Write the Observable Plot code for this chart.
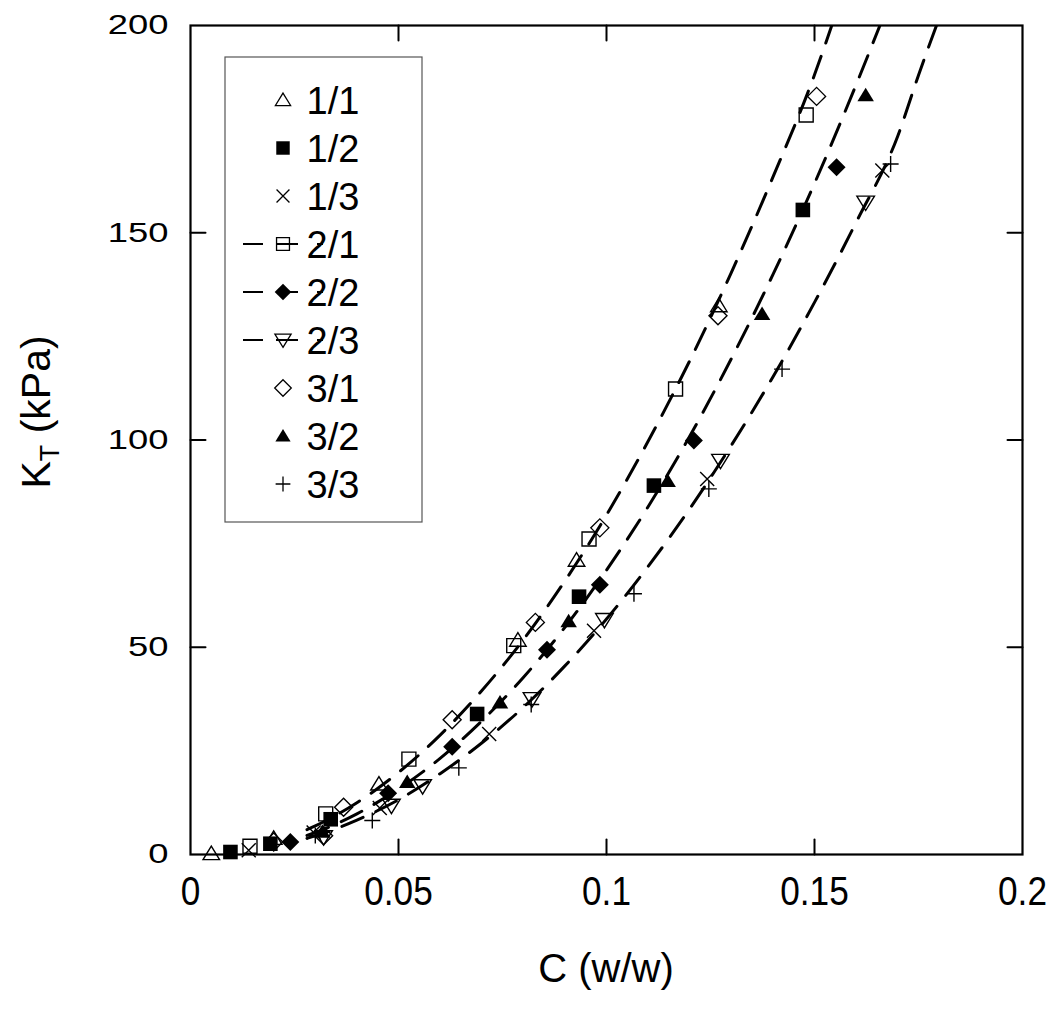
<!DOCTYPE html>
<html><head><meta charset="utf-8">
<script src="https://cdn.jsdelivr.net/npm/d3@7"></script>
<script src="https://cdn.jsdelivr.net/npm/@observablehq/plot@0.6"></script>
<style>
body{margin:0;background:#fff;}
#chart{position:relative;width:1050px;height:1013px;}
</style></head><body><div id="chart"></div>
<script>
// ---------- data ----------
const seriesNames = ["1/1","1/2","1/3","2/1","2/2","2/3","3/1","3/2","3/3"];
const c11 = [0.005,0.020,0.0453,0.0787,0.0928,0.127];
const k11 = [0.2,3.9,17,51.7,71,132.4];
const c12 = [0.0096,0.0192,0.0337,0.0689,0.0934,0.1114,0.1472];
const k12 = [0.6,2.6,8.5,33.9,62.2,89,155.5];
const c13 = [0.014,0.0296,0.0455,0.0718,0.097,0.1242,0.1663];
const k13 = [1,5.3,11.2,29.1,54,90.6,165];
const c21 = [0.0143,0.0325,0.0525,0.0777,0.0958,0.1166,0.148];
const k21 = [2.0,9.8,23,50.4,76.1,112.3,178.4];
const c22 = [0.024,0.0475,0.0629,0.0857,0.0984,0.121,0.1553];
const k22 = [3.0,14.8,26,49.4,65.1,99.9,165.8];
const c23 = [0.032,0.0483,0.0558,0.0821,0.0995,0.1274,0.1623];
const k23 = [4.2,11.8,16.5,37.5,56.6,95,157.3];
const c31 = [0.020,0.032,0.0368,0.0629,0.0829,0.0984,0.1268,0.1505];
const k31 = [3.0,4.5,11.4,32.5,56,78.8,130,182.9];
const c32 = [0.0317,0.0521,0.0744,0.0909,0.1147,0.1374,0.1623];
const k32 = [5.5,17.5,36.7,56.3,90.1,130.4,183.2];
const c33 = [0.030,0.0437,0.0645,0.0819,0.1066,0.1246,0.1422,0.1683];
const k33 = [4.6,8.2,20.9,36.2,62.9,88.2,117.1,166.6];

// dashed fit curves
const fitC21 = [0.028,0.03,0.04,0.05,0.06,0.07,0.08,0.09,0.10,0.11,0.12,0.13,0.14,0.15,0.155];
const fitK21 = [6.0,6.9,12.5,19.8,28.8,39.5,51.8,66.0,81.9,99.7,119.1,140.4,163.4,188.1,202.5];
const fitC22 = [0.028,0.03,0.04,0.05,0.06,0.07,0.08,0.09,0.10,0.11,0.12,0.13,0.14,0.15,0.16,0.166];
const fitK22 = [4.6,5.3,9.8,15.8,23.2,32.2,42.7,54.8,68.6,83.9,100.9,119.6,139.9,161.9,185.7,200.7];
const fitC23 = [0.028,0.03,0.04,0.05,0.06,0.07,0.08,0.09,0.10,0.11,0.12,0.13,0.14,0.15,0.16,0.17,0.175,0.1795];
const fitK23 = [3.9,4.5,8.3,13.2,19.5,26.9,35.5,45.5,56.8,69.5,83.4,98.7,115.2,133.2,152.5,173.3,188,200.5];

const xTicks = [0,0.05,0.1,0.15,0.2];
const yTicks = [0,50,100,150,200];
const xInner = [0.05,0.1,0.15];
const yInner = [50,100,150];

// ---------- symbols ----------
function mk(fn){ return {draw(ctx,size){ const r=Math.sqrt(size/Math.PI); fn(ctx,r);} }; }
const shapes = {
  triUp: mk((c,r)=>{c.moveTo(0,-r);c.lineTo(r*1.1,r*0.8);c.lineTo(-r*1.1,r*0.8);c.closePath();}),
  triDown: mk((c,r)=>{c.moveTo(0,r);c.lineTo(r*1.1,-r*0.8);c.lineTo(-r*1.1,-r*0.8);c.closePath();}),
  square: mk((c,r)=>{c.rect(-r,-r,2*r,2*r);}),
  diamond: mk((c,r)=>{c.moveTo(0,-r);c.lineTo(r,0);c.lineTo(0,r);c.lineTo(-r,0);c.closePath();}),
  times: mk((c,r)=>{c.moveTo(-r,-r);c.lineTo(r,r);c.moveTo(-r,r);c.lineTo(r,-r);}),
  plus: mk((c,r)=>{c.moveTo(-r,0);c.lineTo(r,0);c.moveTo(0,-r);c.lineTo(0,r);})
};
const styleOf = {
  "1/1": {shape:"triUp", filled:false, r:7.5},
  "1/2": {shape:"square", filled:true, r:7.3},
  "1/3": {shape:"times", filled:false, r:7},
  "2/1": {shape:"square", filled:false, r:7},
  "2/2": {shape:"diamond", filled:true, r:9},
  "2/3": {shape:"triDown", filled:false, r:8},
  "3/1": {shape:"diamond", filled:false, r:9},
  "3/2": {shape:"triUp", filled:true, r:7.5},
  "3/3": {shape:"plus", filled:false, r:8}
};
const dataOf = {
  "1/1":[c11,k11],"1/2":[c12,k12],"1/3":[c13,k13],
  "2/1":[c21,k21],"2/2":[c22,k22],"2/3":[c23,k23],
  "3/1":[c31,k31],"3/2":[c32,k32],"3/3":[c33,k33]
};
const toRows = (cs,ks)=>cs.map((c,i)=>({c,k:ks[i]}));

const dotMarks = seriesNames.map(name=>{
  const st = styleOf[name];
  const [cs,ks] = dataOf[name];
  return Plot.dot(toRows(cs,ks), {
    x:"c", y:"k", symbol: shapes[st.shape], r: st.r,
    fill: st.filled ? "black" : "none",
    stroke: st.filled ? "none" : "black",
    strokeWidth: 1.4
  });
});
const fits = [[fitC21,fitK21],[fitC22,fitK22],[fitC23,fitK23]];
const lineMarks = fits.map(([cs,ks])=>Plot.line(toRows(cs,ks), {
  x:"c", y:"k", stroke:"black", strokeWidth:3, strokeDasharray:"23,14",
  curve:"monotone-x", clip:true
}));

const tickShape = {draw(ctx, l){ ctx.moveTo(0,0); ctx.lineTo(0,-l); }};
const tickStyle = {stroke:"black", strokeWidth:2, length:15, anchor:"start", shape:tickShape};
const plot = Plot.plot({
  width:1050, height:1013,
  marginLeft:190, marginRight:28, marginTop:25, marginBottom:159,
  x:{domain:[0,0.2]},
  y:{domain:[0,200]},
  style:{fontFamily:"'Liberation Sans', Arial, sans-serif", background:"white", color:"black"},
  marks:[
    Plot.axisX({ticks:xTicks, tickSize:0, tickPadding:22, fontSize:40, label:null, tickFormat:d=>String(d)}),
    Plot.axisY({ticks:yTicks, tickSize:0, tickPadding:22, fontSize:28, label:null, tickFormat:d=>String(d)}),
    ...dotMarks,
    ...lineMarks,
    Plot.vector(xInner, {x:d=>d, y:()=>0, rotate:0, ...tickStyle}),
    Plot.vector(xInner, {x:d=>d, y:()=>200, rotate:180, ...tickStyle}),
    Plot.vector(yInner, {x:()=>0, y:d=>d, rotate:90, ...tickStyle}),
    Plot.vector(yInner, {x:()=>0.2, y:d=>d, rotate:-90, ...tickStyle}),
    Plot.frame({stroke:"black", strokeWidth:2.2})
  ]
});
document.getElementById("chart").appendChild(plot);

const svg = d3.select(plot);
// widen / condense tick labels like the original
svg.selectAll('g[aria-label="x-axis tick label"] text').each(function(){
  const t = this.getAttribute("transform")||"";
  this.setAttribute("transform", t+" scale(0.88,1)");
});
svg.selectAll('g[aria-label="y-axis tick label"] text').each(function(){
  const t = this.getAttribute("transform")||"";
  this.setAttribute("transform", t+" scale(1.3,1)");
});

// axis titles
svg.append("text").attr("x",606).attr("y",982).attr("text-anchor","middle")
  .attr("font-size",40).attr("font-family","'Liberation Sans', Arial, sans-serif").text("C (w/w)");
const yt = svg.append("text").attr("transform","translate(50,412) rotate(-90)")
  .attr("text-anchor","middle").attr("font-size",41)
  .attr("font-family","'Liberation Sans', Arial, sans-serif");
yt.append("tspan").text("K");
yt.append("tspan").attr("font-size",27).attr("dy",9).text("T");
yt.append("tspan").attr("dy",-9).text(" (kPa)");

// legend
const lg = svg.append("g").attr("transform","translate(225,57)");
lg.append("rect").attr("width",197).attr("height",465).attr("fill","white").attr("stroke","#555").attr("stroke-width",1.2);
seriesNames.forEach((name,i)=>{
  const cy = 43 + i*48;
  const st = styleOf[name];
  if (name.startsWith("2/")) {
    lg.append("line").attr("x1",18).attr("x2",98).attr("y1",cy).attr("y2",cy)
      .attr("stroke","black").attr("stroke-width",2).attr("stroke-dasharray","20 13 22 19");
  }
  lg.append("path").attr("transform",`translate(58,${cy})`)
    .attr("d", d3.symbol(shapes[st.shape], st.r*st.r*Math.PI*0.85)())
    .attr("fill", st.filled ? "black":"none")
    .attr("stroke", st.filled ? "none":"black").attr("stroke-width",1.3);
  lg.append("text").attr("x",108).attr("y",cy).attr("dy","0.36em")
    .attr("font-size",38).attr("font-family","'Liberation Sans', Arial, sans-serif").text(name);
});
</script></body></html>
